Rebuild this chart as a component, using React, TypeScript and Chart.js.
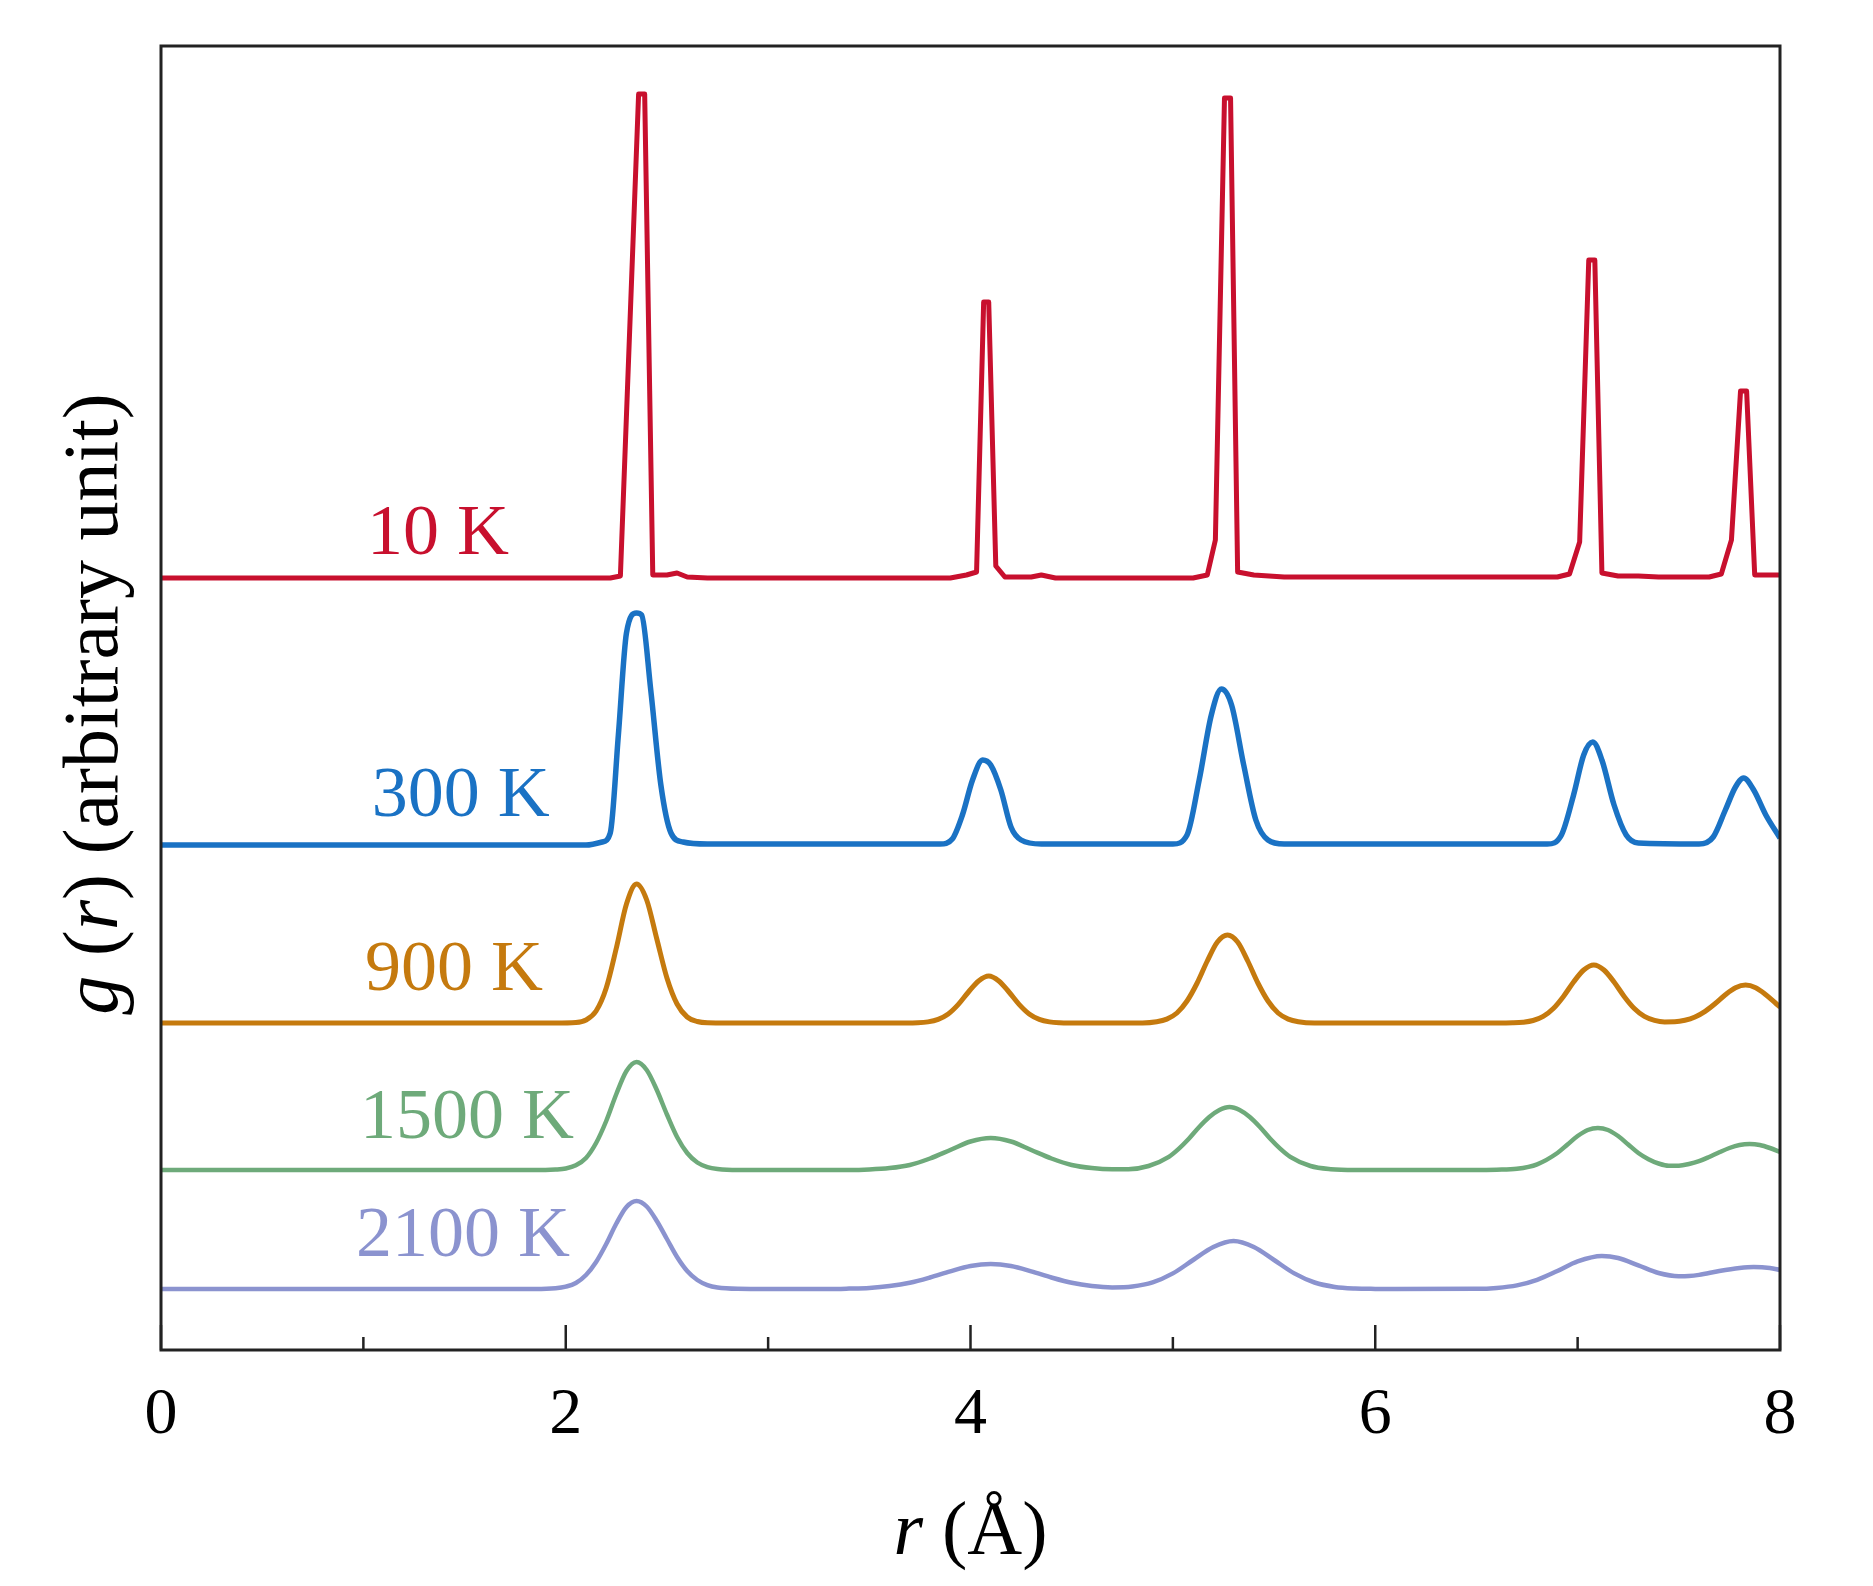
import { useEffect, useRef } from 'react';
import { Chart, registerables } from 'chart.js';

Chart.register(...registerables);

const FONT = '"Liberation Serif", "Times New Roman", Times, serif';

// series: temperature labels, colours and vertical offsets (arbitrary units)
const temps = ['10 K', '300 K', '900 K', '1500 K', '2100 K'];
const colors = ['#c8102e', '#1a72c4', '#c57a0e', '#6eaa7a', '#8b93cf'];
const widths = [5, 5.5, 5, 4.5, 4.5];
const offsets = [7.72, 5.05, 3.27, 1.8, 0.61];

// g(r), [r (Å), g] above each baseline
const g10 = [
  [0, 0], [2.22, 0], [2.27, 0.02], [2.36, 4.84], [2.39, 4.84], [2.43, 0.03], [2.5, 0.03],
  [2.55, 0.05], [2.6, 0.01], [2.7, 0], [3.9, 0], [3.98, 0.03], [4.03, 0.06], [4.065, 2.76],
  [4.09, 2.76], [4.125, 0.12], [4.17, 0.01], [4.3, 0.01], [4.35, 0.03], [4.42, 0], [5.1, 0],
  [5.17, 0.03], [5.21, 0.38], [5.255, 4.8], [5.285, 4.8], [5.32, 0.06], [5.4, 0.03],
  [5.55, 0.01], [6.9, 0.01], [6.96, 0.04], [7.01, 0.36], [7.055, 3.18], [7.085, 3.18],
  [7.12, 0.05], [7.2, 0.02], [7.3, 0.02], [7.4, 0.01], [7.65, 0.01], [7.71, 0.04],
  [7.76, 0.38], [7.805, 1.87], [7.835, 1.87], [7.875, 0.03], [8, 0.03],
];
const g300 = [
  [0, 0], [2.1, 0], [2.18, 0.03], [2.22, 0.12], [2.26, 1.1], [2.3, 2.12], [2.35, 2.32],
  [2.375, 2.3], [2.42, 1.55], [2.47, 0.6], [2.52, 0.12], [2.58, 0.03], [2.7, 0.01],
  [3.85, 0.01], [3.91, 0.06], [3.96, 0.3], [4.01, 0.65], [4.06, 0.85], [4.1, 0.8],
  [4.15, 0.55], [4.2, 0.18], [4.25, 0.05], [4.35, 0.01], [5.0, 0.01], [5.07, 0.1],
  [5.13, 0.65], [5.19, 1.3], [5.24, 1.56], [5.29, 1.4], [5.35, 0.8], [5.41, 0.25],
  [5.47, 0.05], [5.55, 0.01], [6.85, 0.01], [6.92, 0.1], [6.98, 0.5], [7.03, 0.9],
  [7.075, 1.03], [7.12, 0.85], [7.18, 0.4], [7.24, 0.1], [7.3, 0.02], [7.6, 0.01],
  [7.67, 0.08], [7.73, 0.35], [7.78, 0.58], [7.82, 0.67], [7.87, 0.55], [7.93, 0.3], [8.0, 0.07],
];
const g900 = [
  [0, 0], [1.95, 0], [2.05, 0.005], [2.1, 0.03], [2.15, 0.12], [2.2, 0.35], [2.25, 0.75],
  [2.3, 1.19], [2.35, 1.39], [2.4, 1.23], [2.45, 0.84], [2.5, 0.45], [2.55, 0.19], [2.6, 0.06],
  [2.65, 0.015], [2.7, 0.002], [2.8, 0], [3.6, 0], [3.74, 0.003], [3.79, 0.011], [3.84, 0.036],
  [3.89, 0.09], [3.94, 0.186], [3.99, 0.31], [4.04, 0.42], [4.09, 0.47], [4.14, 0.42],
  [4.19, 0.31], [4.24, 0.186], [4.29, 0.09], [4.34, 0.036], [4.39, 0.011], [4.44, 0.003],
  [4.55, 0], [4.85, 0], [4.92, 0.012], [4.97, 0.039], [5.02, 0.1], [5.07, 0.22], [5.12, 0.4],
  [5.17, 0.62], [5.22, 0.81], [5.27, 0.88], [5.32, 0.81], [5.37, 0.62], [5.42, 0.4],
  [5.47, 0.22], [5.52, 0.1], [5.57, 0.039], [5.62, 0.012], [5.7, 0], [6.6, 0], [6.68, 0.002],
  [6.73, 0.008], [6.78, 0.025], [6.83, 0.066], [6.88, 0.145], [6.93, 0.266], [6.98, 0.41],
  [7.03, 0.53], [7.08, 0.58], [7.13, 0.53], [7.18, 0.41], [7.23, 0.266], [7.28, 0.145],
  [7.33, 0.066], [7.38, 0.026], [7.43, 0.011], [7.48, 0.012], [7.53, 0.027], [7.58, 0.06],
  [7.63, 0.116], [7.68, 0.195], [7.73, 0.283], [7.78, 0.353], [7.83, 0.38], [7.88, 0.353],
  [7.93, 0.283], [7.98, 0.195], [8.0, 0.16],
];
const g1500 = [
  [0, 0], [1.9, 0], [1.95, 0.004], [2.0, 0.015], [2.05, 0.047], [2.1, 0.12], [2.15, 0.27],
  [2.2, 0.49], [2.25, 0.76], [2.3, 0.99], [2.35, 1.08], [2.4, 1.0], [2.45, 0.8], [2.5, 0.555],
  [2.55, 0.33], [2.6, 0.17], [2.65, 0.075], [2.7, 0.029], [2.75, 0.01], [2.85, 0], [3.4, 0],
  [3.5, 0.005], [3.6, 0.019], [3.7, 0.05], [3.8, 0.115], [3.9, 0.2], [4.0, 0.285], [4.1, 0.32],
  [4.2, 0.285], [4.3, 0.2], [4.4, 0.115], [4.5, 0.05], [4.6, 0.019], [4.7, 0.007],
  [4.78, 0.008], [4.88, 0.04], [4.98, 0.132], [5.03, 0.214], [5.08, 0.315], [5.13, 0.43],
  [5.18, 0.53], [5.23, 0.6], [5.28, 0.63], [5.33, 0.6], [5.38, 0.53], [5.43, 0.43],
  [5.48, 0.315], [5.53, 0.214], [5.58, 0.132], [5.68, 0.04], [5.78, 0.008], [5.9, 0],
  [6.5, 0], [6.6, 0.003], [6.7, 0.012], [6.8, 0.057], [6.9, 0.17], [6.95, 0.255], [7.0, 0.34],
  [7.05, 0.4], [7.1, 0.42], [7.15, 0.4], [7.2, 0.34], [7.25, 0.255], [7.3, 0.17], [7.35, 0.108],
  [7.4, 0.065], [7.45, 0.042], [7.5, 0.043], [7.55, 0.06], [7.6, 0.088], [7.65, 0.13],
  [7.7, 0.177], [7.75, 0.22], [7.8, 0.25], [7.85, 0.26], [7.9, 0.25], [7.95, 0.22], [8.0, 0.18],
];
const g2100 = [
  [0, 0], [1.85, 0], [1.95, 0.008], [2.0, 0.024], [2.05, 0.06], [2.1, 0.14], [2.15, 0.27],
  [2.2, 0.45], [2.25, 0.655], [2.3, 0.82], [2.35, 0.88], [2.4, 0.825], [2.45, 0.68], [2.5, 0.5],
  [2.55, 0.32], [2.6, 0.18], [2.65, 0.09], [2.7, 0.039], [2.75, 0.015], [2.85, 0.002], [3.0, 0],
  [3.3, 0], [3.4, 0.004], [3.5, 0.011], [3.6, 0.029], [3.7, 0.062], [3.8, 0.115], [3.9, 0.177],
  [4.0, 0.23], [4.1, 0.25], [4.2, 0.23], [4.3, 0.177], [4.4, 0.115], [4.5, 0.062], [4.6, 0.03],
  [4.7, 0.016], [4.8, 0.025], [4.9, 0.066], [5.0, 0.156], [5.1, 0.29], [5.2, 0.42], [5.3, 0.48],
  [5.4, 0.42], [5.5, 0.29], [5.6, 0.156], [5.7, 0.065], [5.8, 0.021], [5.9, 0.005], [6.0, 0.001],
  [6.1, 0], [6.5, 0.002], [6.6, 0.011], [6.7, 0.036], [6.8, 0.092], [6.9, 0.18], [7.0, 0.276],
  [7.12, 0.33], [7.2, 0.31], [7.3, 0.236], [7.4, 0.16], [7.5, 0.128], [7.55, 0.13], [7.6, 0.141],
  [7.7, 0.18], [7.8, 0.21], [7.87, 0.22], [7.95, 0.21], [8.0, 0.19],
];
const curves = [g10, g300, g900, g1500, g2100];

// where each temperature label sits (left edge r, text baseline g)
const labelR = [1.018, 1.042, 1.008, 0.983, 0.963];
const labelG = [7.96, 5.34, 3.6, 2.12, 0.94];

const rTicks = [0, 1, 2, 3, 4, 5, 6, 7, 8];

function drawParts(ctx: CanvasRenderingContext2D, parts: [string, boolean][], size: number, cx: number, cy: number) {
  const fontFor = (it: boolean) => `${it ? 'italic ' : ''}${size}px ${FONT}`;
  let total = 0;
  for (const [t, it] of parts) { ctx.font = fontFor(it); total += ctx.measureText(t).width; }
  let x = cx - total / 2;
  ctx.textAlign = 'left';
  ctx.textBaseline = 'alphabetic';
  for (const [t, it] of parts) {
    ctx.font = fontFor(it);
    ctx.fillText(t, x, cy);
    x += ctx.measureText(t).width;
  }
}

const decorPlugin = {
  id: 'decor',
  afterDatasetsDraw(chart: any) {
    const { ctx, chartArea: a, scales } = chart;
    const xs = scales.x, ys = scales.y;
    ctx.save();
    // frame
    ctx.strokeStyle = '#222';
    ctx.lineWidth = 3;
    ctx.strokeRect(a.left, a.top, a.right - a.left, a.bottom - a.top);
    // inward ticks, long on the labelled values
    ctx.lineWidth = 2.5;
    rTicks.forEach((v) => {
      const px = xs.getPixelForValue(v);
      const len = v % 2 === 0 ? 25 : 13;
      ctx.beginPath();
      ctx.moveTo(px, a.bottom);
      ctx.lineTo(px, a.bottom - len);
      ctx.stroke();
    });
    // temperature labels
    ctx.font = `72px ${FONT}`;
    ctx.textAlign = 'left';
    ctx.textBaseline = 'alphabetic';
    temps.forEach((t, i) => {
      ctx.fillStyle = colors[i];
      ctx.fillText(t, xs.getPixelForValue(labelR[i]), ys.getPixelForValue(labelG[i]));
    });
    // axis titles
    ctx.fillStyle = '#000';
    drawParts(ctx, [['r', true], [' (Å)', false]], 76, (a.left + a.right) / 2, 1554);
    ctx.translate(117, (a.top + a.bottom) / 2 + 6);
    ctx.rotate(-Math.PI / 2);
    drawParts(ctx, [['g', true], [' (', false], ['r', true], [') (arbitrary unit)', false]], 78, 0, 0);
    ctx.restore();
  },
};

export default function App() {
  const canvasRef = useRef<HTMLCanvasElement>(null);

  useEffect(() => {
    document.body.style.margin = '0';
    const chart = new Chart(canvasRef.current!, {
      type: 'line',
      data: {
        datasets: curves.map((c, i) => ({
          label: temps[i],
          data: c.map(([r, g]) => ({ x: r, y: g + offsets[i] })),
          borderColor: colors[i],
          borderWidth: widths[i],
          borderJoinStyle: 'round' as const,
          pointRadius: 0,
          tension: i === 0 ? 0 : 0.4,
          cubicInterpolationMode: i === 0 ? 'default' as const : 'monotone' as const,
          fill: false,
        })),
      },
      options: {
        animation: false,
        responsive: true,
        maintainAspectRatio: false,
        devicePixelRatio: 1,
        layout: { padding: { top: 46, right: 93, bottom: 0, left: 0 } },
        plugins: { legend: { display: false }, tooltip: { enabled: false } },
        scales: {
          x: {
            type: 'linear',
            min: 0,
            max: 8,
            grid: { display: false },
            border: { display: false },
            ticks: {
              stepSize: 2,
              color: '#000',
              padding: 18,
              font: { family: FONT, size: 66 },
              maxRotation: 0,
            },
            afterFit: (s: any) => { s.height = 236; },
          },
          y: {
            min: 0,
            max: 13.04,
            grid: { display: false },
            border: { display: false },
            ticks: { display: false },
            afterFit: (s: any) => { s.width = 161; },
          },
        },
      },
      plugins: [decorPlugin],
    });
    return () => chart.destroy();
  }, []);

  return (
    <div style={{ width: 1873, height: 1586, background: '#fff' }}>
      <canvas ref={canvasRef} />
    </div>
  );
}
